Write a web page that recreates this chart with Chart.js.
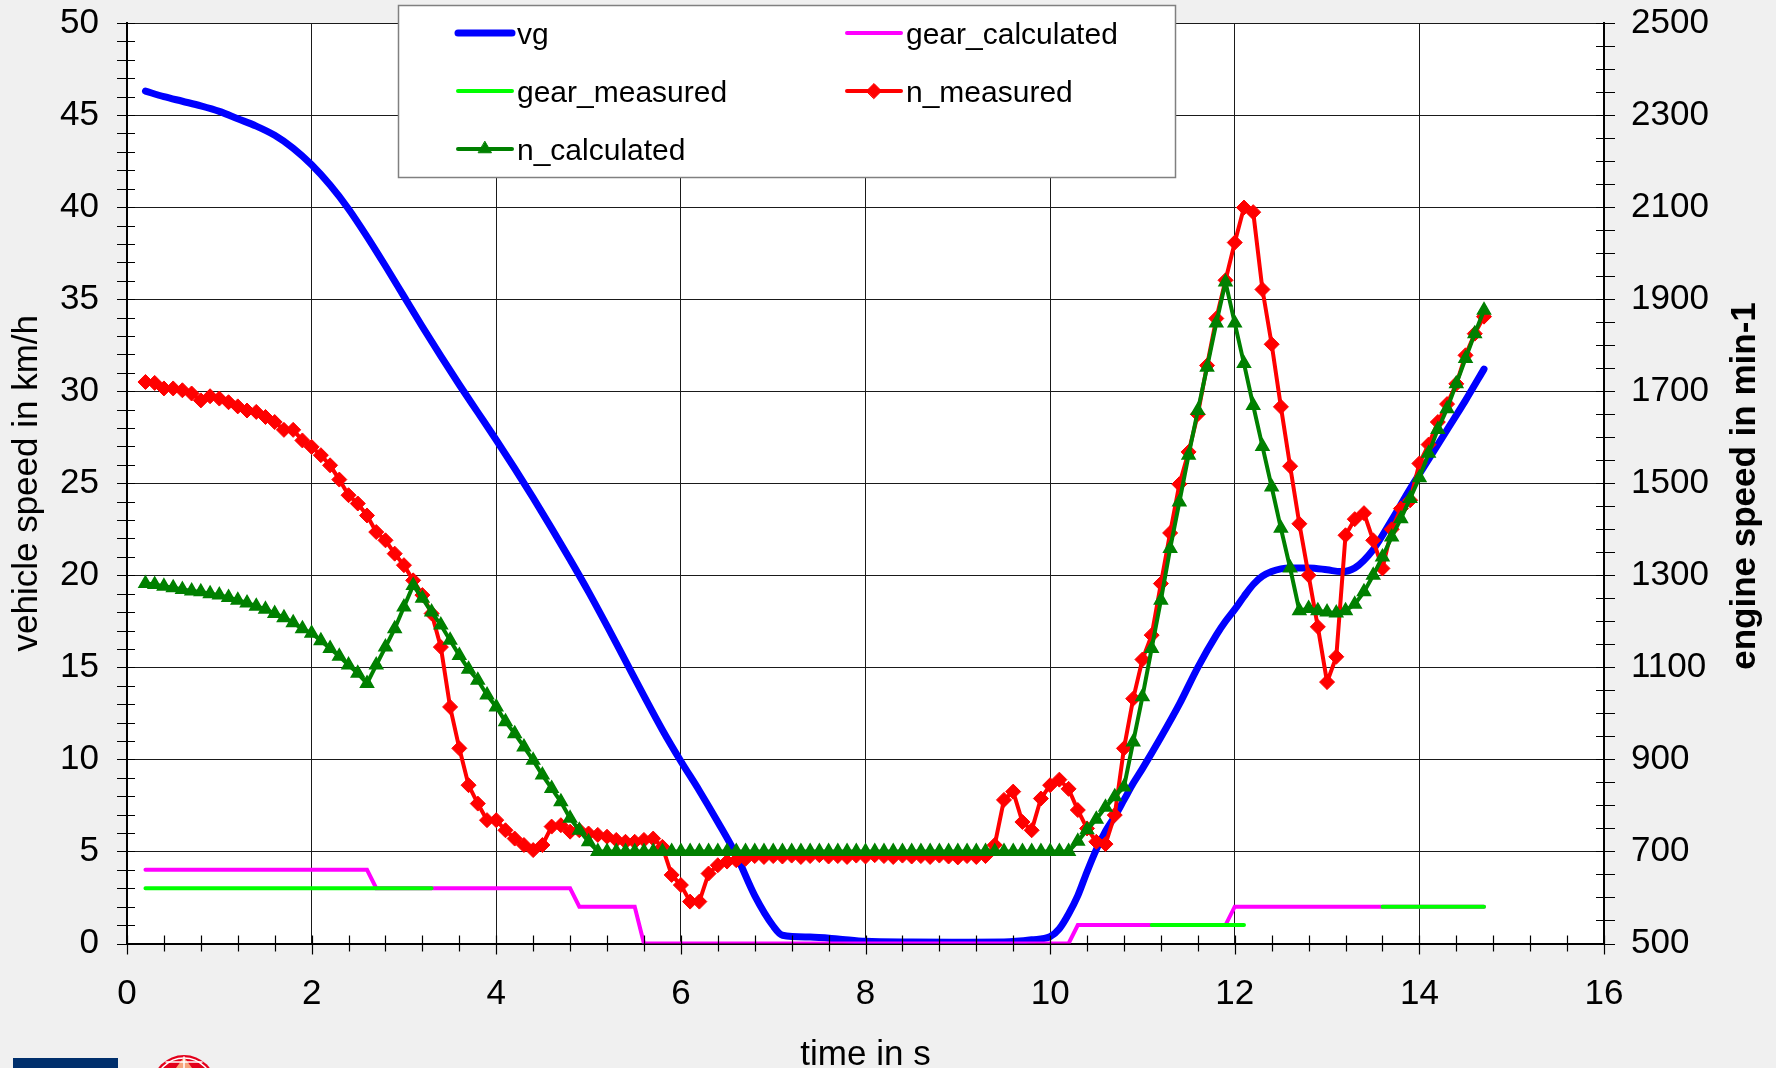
<!DOCTYPE html>
<html>
<head>
<meta charset="utf-8">
<title>vehicle speed / engine speed</title>
<script src="https://cdn.jsdelivr.net/npm/chart.js@4.4.1/dist/chart.umd.min.js"></script>
<style>
  html, body { margin: 0; padding: 0; background: #f0f0f0; overflow: hidden; }
  #wrap { width: 1776px; height: 1068px; position: relative; }
</style>
</head>
<body>
<div id="wrap"><canvas id="speedChart"></canvas></div>
<script>
/* vehicle speed + gears on the left axis, engine speed on the right axis */

// ── vehicle speed vg (km/h) ───────────────────────────────────────────────
const vgTime  = [0.2, 0.4, 0.6, 0.8, 1.0, 1.2, 1.4, 1.6, 1.8, 2.0, 2.2, 2.4, 2.6, 2.8, 3.0, 3.2, 3.4, 3.6, 3.8, 4.0,
                 4.2, 4.4, 4.6, 4.8, 5.0, 5.2, 5.4, 5.6, 5.8, 6.0, 6.2, 6.4, 6.6, 6.8, 7.0, 7.1, 7.4, 7.7, 8.0, 8.5,
                 9.0, 9.5, 9.8, 10.0, 10.1, 10.2, 10.3, 10.4, 10.5, 10.6, 10.7, 10.8, 10.9, 11.0, 11.2, 11.4, 11.6, 11.8, 11.9, 12.0,
                 12.1, 12.2, 12.3, 12.4, 12.5, 12.6, 12.8, 13.0, 13.15, 13.3, 13.5, 13.7, 13.9, 14.1, 14.3, 14.5, 14.7];
const vgSpeed = [46.3, 46.0, 45.75, 45.5, 45.2, 44.8, 44.4, 43.9, 43.2, 42.3, 41.2, 39.9, 38.4, 36.8, 35.15, 33.5, 31.9, 30.35, 28.85, 27.35,
                 25.8, 24.2, 22.55, 20.85, 19.1, 17.25, 15.35, 13.45, 11.6, 9.9, 8.3, 6.6, 4.8, 2.6, 0.95, 0.45, 0.35, 0.25, 0.12, 0.08,
                 0.07, 0.08, 0.2, 0.37, 0.8, 1.6, 2.6, 3.9, 5.1, 6.1, 6.9, 7.8, 8.7, 9.5, 11.2, 13.0, 15.0, 16.75, 17.5, 18.15,
                 18.85, 19.5, 19.95, 20.2, 20.35, 20.4, 20.4, 20.3, 20.2, 20.4, 21.4, 23.0, 24.7, 26.3, 27.9, 29.5, 31.2];

// ── gears ─────────────────────────────────────────────────────────────────
const gearCalcTime = [0.2, 2.6, 2.7, 4.8, 4.9, 5.5, 5.6, 10.2, 10.3, 11.9, 12.0, 14.7];
const gearCalc     = [4, 4, 3, 3, 2, 2, 0, 0, 1, 1, 2, 2];
const gearMeasTime = [0.2, 3.3, 7.0, 11.1, 12.1, 13.0, 13.6, 14.7];
const gearMeas     = [3, 3, null, 1, 1, null, 2, 2];

// ── engine speed (min-1), one sample every 0.1 s ─────────────────────────
const nTime = [0.2, 0.3, 0.4, 0.5, 0.6, 0.7, 0.8, 0.9, 1.0, 1.1,
               1.2, 1.3, 1.4, 1.5, 1.6, 1.7, 1.8, 1.9, 2.0, 2.1,
               2.2, 2.3, 2.4, 2.5, 2.6, 2.7, 2.8, 2.9, 3.0, 3.1,
               3.2, 3.3, 3.4, 3.5, 3.6, 3.7, 3.8, 3.9, 4.0, 4.1,
               4.2, 4.3, 4.4, 4.5, 4.6, 4.7, 4.8, 4.9, 5.0, 5.1,
               5.2, 5.3, 5.4, 5.5, 5.6, 5.7, 5.8, 5.9, 6.0, 6.1,
               6.2, 6.3, 6.4, 6.5, 6.6, 6.7, 6.8, 6.9, 7.0, 7.1,
               7.2, 7.3, 7.4, 7.5, 7.6, 7.7, 7.8, 7.9, 8.0, 8.1,
               8.2, 8.3, 8.4, 8.5, 8.6, 8.7, 8.8, 8.9, 9.0, 9.1,
               9.2, 9.3, 9.4, 9.5, 9.6, 9.7, 9.8, 9.9, 10.0, 10.1,
               10.2, 10.3, 10.4, 10.5, 10.6, 10.7, 10.8, 10.9, 11.0, 11.1,
               11.2, 11.3, 11.4, 11.5, 11.6, 11.7, 11.8, 11.9, 12.0, 12.1,
               12.2, 12.3, 12.4, 12.5, 12.6, 12.7, 12.8, 12.9, 13.0, 13.1,
               13.2, 13.3, 13.4, 13.5, 13.6, 13.7, 13.8, 13.9, 14.0, 14.1,
               14.2, 14.3, 14.4, 14.5, 14.6, 14.7];
const nMeasured = [1720, 1718, 1706, 1706, 1702, 1695, 1680, 1689, 1684, 1676,
                   1667, 1658, 1655, 1644, 1633, 1616, 1616, 1593, 1579, 1561,
                   1539, 1508, 1474, 1456, 1430, 1394, 1376, 1347, 1322, 1289,
                   1257, 1217, 1144, 1014, 924, 844, 804, 768, 768, 746,
                   728, 714, 703, 714, 754, 757, 743, 746, 739, 736,
                   732, 725, 721, 721, 725, 728, 710, 649, 627, 591,
                   591, 652, 670, 678, 681, 684, 690, 688, 690, 689,
                   691, 688, 690, 692, 689, 690, 688, 691, 689, 692,
                   690, 688, 691, 689, 690, 688, 691, 689, 687, 690,
                   688, 690, 714, 812, 830, 764, 746, 815, 844, 856,
                   836, 790, 750, 721, 716, 779, 924, 1032, 1117, 1170,
                   1282, 1392, 1498, 1568, 1650, 1756, 1858, 1941, 2023, 2099,
                   2089, 1921, 1802, 1666, 1537, 1412, 1300, 1188, 1068, 1123,
                   1387, 1422, 1435, 1376, 1315, 1400, 1445, 1463, 1543, 1584,
                   1633, 1672, 1716, 1778, 1825, 1862];
const nCalculated = [1282, 1280, 1276, 1273, 1269, 1266, 1264, 1260, 1257, 1252,
                     1246, 1240, 1233, 1226, 1217, 1208, 1197, 1184, 1174, 1158,
                     1141, 1124, 1105, 1087, 1065, 1105, 1144, 1184, 1231, 1278,
                     1250, 1220, 1192, 1159, 1126, 1096, 1072, 1040, 1014, 982,
                     956, 927, 898, 866, 837, 808, 772, 746, 721, 700,
                     700, 700, 700, 700, 700, 700, 700, 700, 700, 700,
                     700, 700, 700, 700, 700, 700, 700, 700, 700, 700,
                     700, 700, 700, 700, 700, 700, 700, 700, 700, 700,
                     700, 700, 700, 700, 700, 700, 700, 700, 700, 700,
                     700, 700, 700, 700, 700, 700, 700, 700, 700, 700,
                     700, 722, 747, 770, 796, 819, 840, 938, 1036, 1141,
                     1246, 1358, 1459, 1561, 1658, 1752, 1848, 1937, 1848, 1760,
                     1669, 1580, 1492, 1402, 1316, 1223, 1228, 1223, 1220, 1218,
                     1223, 1237, 1264, 1300, 1340, 1383, 1423, 1467, 1512, 1565,
                     1617, 1662, 1716, 1771, 1825, 1876];

const FONT = '"Liberation Sans", Arial, Helvetica, sans-serif';
Chart.defaults.font.family = FONT;
Chart.defaults.color = '#000';

const pts = (xs, ys) => xs.map((x, i) => ({ x: x, y: ys[i] }));

// ── plot frame, minor ticks, right title, legend box, logos ──────────────
const decorPlugin = {
    id: 'decor',
    beforeDraw(chart) {
        const { ctx, chartArea: a } = chart;
        ctx.save();
        ctx.fillStyle = '#ffffff';
        ctx.fillRect(a.left, a.top, a.right - a.left, a.bottom - a.top);
        ctx.restore();
    },
    afterDraw(chart) {
        const { ctx, chartArea: a, scales } = chart;
        ctx.save();

        // tick marks crossing the axes (Excel style)
        ctx.strokeStyle = '#000';
        ctx.lineWidth = 1.2;
        ctx.beginPath();
        for (let i = 0; i <= 40; i++) {           // x: every 0.4 s
            const px = Math.round(scales.x.getPixelForValue(i * 0.4)) + 0.5;
            const out = (i % 5 === 0) ? 11 : 8;
            ctx.moveTo(px, a.bottom - 8); ctx.lineTo(px, a.bottom + out);
        }
        for (let v = 0; v <= 50; v++) {           // left: every 1 km/h
            const py = Math.round(scales.yL.getPixelForValue(v)) + 0.5;
            ctx.moveTo(a.left - 10, py); ctx.lineTo(a.left + 8, py);
        }
        for (let v = 500; v <= 2500; v += 50) {   // right: every 50 min-1
            const py = Math.round(scales.yR.getPixelForValue(v)) + 0.5;
            ctx.moveTo(a.right - 8, py); ctx.lineTo(a.right + 11, py);
        }
        ctx.stroke();

        // right axis title reads bottom-to-top
        ctx.fillStyle = '#000';
        ctx.font = 'bold 35px ' + FONT;
        ctx.textAlign = 'center';
        ctx.textBaseline = 'middle';
        ctx.translate(1745, 486);
        ctx.rotate(-Math.PI / 2);
        ctx.fillText('engine speed in min-1', 0, 0);
        ctx.setTransform(1, 0, 0, 1, 0, 0);

        // legend
        ctx.fillStyle = '#ffffff';
        ctx.fillRect(398, 5, 778, 173);
        ctx.strokeStyle = '#808080';
        ctx.lineWidth = 1.5;
        ctx.strokeRect(398.5, 5.5, 777, 172);
        const cols = [{ x0: 458, x1: 512, tx: 517 }, { x0: 847, x1: 901, tx: 906 }];
        const rows = [33, 91, 149];
        const slots = [[0, 0], [1, 0], [0, 1], [1, 1], [0, 2]];
        ctx.font = '30px ' + FONT;
        ctx.textAlign = 'left';
        chart.data.datasets.forEach((ds, i) => {
            const c = cols[slots[i][0]], y = rows[slots[i][1]];
            ctx.strokeStyle = ds.borderColor;
            ctx.lineWidth = ds.borderWidth;
            ctx.lineCap = 'round';
            ctx.beginPath(); ctx.moveTo(c.x0, y); ctx.lineTo(c.x1, y); ctx.stroke();
            if (ds.pointRadius > 0) {
                ctx.fillStyle = ds.pointBackgroundColor;
                ctx.strokeStyle = ds.pointBorderColor;
                ctx.lineWidth = 1;
                Chart.helpers.drawPoint(ctx, { pointStyle: ds.pointStyle, radius: ds.pointRadius, rotation: 0, borderWidth: 1 }, (c.x0 + c.x1) / 2, y);
            }
            ctx.fillStyle = '#000';
            ctx.textBaseline = 'middle';
            ctx.fillText(ds.label, c.tx, y + 3);
        });

        // cut-off logos at the bottom-left corner
        ctx.fillStyle = '#002f6c';
        ctx.fillRect(13, 1058, 105, 10);
        ctx.beginPath();
        ctx.arc(184, 1087, 32, 0, Math.PI * 2);
        ctx.fillStyle = '#e3001b';
        ctx.fill();
        ctx.strokeStyle = '#ffffff';
        ctx.lineWidth = 1.5;
        ctx.beginPath(); ctx.arc(184, 1087, 29, Math.PI, Math.PI * 2); ctx.stroke();
        ctx.beginPath();
        ctx.moveTo(184, 1057); ctx.lineTo(176, 1068); ctx.lineTo(192, 1068); ctx.closePath();
        ctx.fillStyle = '#f6a47a';
        ctx.fill();
        ctx.beginPath(); ctx.moveTo(184, 1057); ctx.lineTo(184, 1068);
        ctx.moveTo(166, 1062); ctx.lineTo(202, 1062); ctx.stroke();
        ctx.restore();
    }
};

const tickFont = { size: 35 };
const gridCfg = { color: '#1a1a1a', lineWidth: 1, drawTicks: false };
// fixed axis boxes so the plot area sits where the reference has it
const fixBox = (w, h) => s => {
    if (w !== null) s.width = w;
    if (h !== null) s.height = h;
    s.paddingTop = 0; s.paddingBottom = 0; s.paddingLeft = 0; s.paddingRight = 0;
};

new Chart(document.getElementById('speedChart'), {
    type: 'line',
    data: {
        datasets: [
            { label: 'vg', data: pts(vgTime, vgSpeed), yAxisID: 'yL', borderColor: '#0000ff', borderWidth: 7,
              pointRadius: 0, cubicInterpolationMode: 'monotone', borderCapStyle: 'round', borderJoinStyle: 'round', order: 5 },
            { label: 'gear_calculated', data: pts(gearCalcTime, gearCalc), yAxisID: 'yL', borderColor: '#ff00ff', borderWidth: 4,
              pointRadius: 0, tension: 0, borderCapStyle: 'round', order: 4 },
            { label: 'gear_measured', data: pts(gearMeasTime, gearMeas), yAxisID: 'yL', borderColor: '#00ff00', borderWidth: 4,
              pointRadius: 0, tension: 0, spanGaps: false, borderCapStyle: 'round', order: 3 },
            { label: 'n_measured', data: pts(nTime, nMeasured), yAxisID: 'yR', borderColor: '#ff0000', borderWidth: 4,
              pointStyle: 'rectRot', pointRadius: 7.5, pointBackgroundColor: '#ff0000', pointBorderColor: '#ff0000',
              pointBorderWidth: 1, tension: 0, order: 2 },
            { label: 'n_calculated', data: pts(nTime, nCalculated), yAxisID: 'yR', borderColor: '#008000', borderWidth: 4,
              pointStyle: 'triangle', pointRadius: 7.5, pointBackgroundColor: '#008000', pointBorderColor: '#008000',
              pointBorderWidth: 1.5, tension: 0, order: 1 }
        ]
    },
    options: {
        responsive: true,
        maintainAspectRatio: false,
        animation: false,
        layout: { padding: { left: 0, right: 0, top: 23, bottom: 0 } },
        plugins: { legend: { display: false }, tooltip: { enabled: false } },
        scales: {
            x: {
                type: 'linear', position: 'bottom', min: 0, max: 16,
                afterFit: fixBox(null, 124.5),
                ticks: { stepSize: 2, font: tickFont, color: '#000', padding: 30, maxRotation: 0, autoSkip: false },
                grid: gridCfg,
                border: { color: '#000', width: 2 },
                title: { display: true, text: 'time in s', color: '#000', font: { size: 35 }, padding: { top: 0, bottom: -8 } }
            },
            yL: {
                type: 'linear', position: 'left', min: 0, max: 50,
                afterFit: fixBox(127, null),
                ticks: { stepSize: 5, font: tickFont, color: '#000', padding: 28 },
                grid: gridCfg,
                border: { color: '#000', width: 2 },
                title: { display: true, text: 'vehicle speed in km/h', color: '#000', font: { size: 35 }, padding: { top: 6, bottom: 0 } }
            },
            yR: {
                type: 'linear', position: 'right', min: 500, max: 2500,
                afterFit: fixBox(172, null),
                ticks: { stepSize: 200, font: tickFont, color: '#000', padding: 27, callback: v => String(v) },
                grid: { drawOnChartArea: false, drawTicks: false },
                border: { color: '#000', width: 2 }
            }
        }
    },
    plugins: [decorPlugin]
});
</script>
</body>
</html>
